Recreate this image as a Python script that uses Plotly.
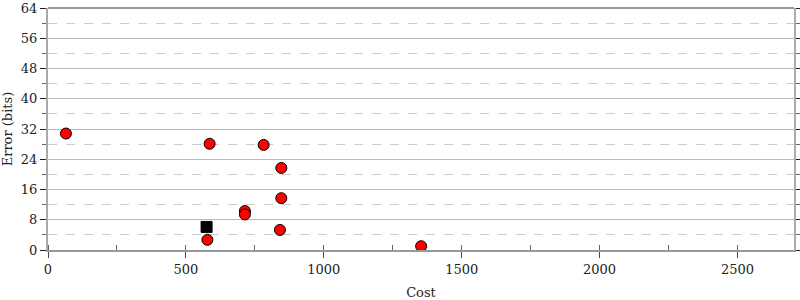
import plotly.graph_objects as go

cost = [65, 586, 782, 846, 846, 714, 714, 841, 578, 1353]
error_bits = [30.8, 28.1, 27.8, 21.7, 13.7, 10.3, 9.4, 5.3, 2.7, 1.0]
best_cost = [575]
best_error = [6.1]

fig = go.Figure()
fig.add_trace(go.Scatter(
    x=cost, y=error_bits, mode="markers",
    marker=dict(symbol="circle", size=11, color="#ff0000",
                line=dict(color="#000000", width=1)),
    showlegend=False, hoverinfo="x+y"))
fig.add_trace(go.Scatter(
    x=best_cost, y=best_error, mode="markers",
    marker=dict(symbol="square", size=11, color="#000000",
                line=dict(color="#000000", width=1)),
    showlegend=False, hoverinfo="x+y"))

font = dict(family="DejaVu Serif", size=13, color="#222222")
fig.update_layout(
    width=800, height=300,
    margin=dict(l=48, r=6, t=8, b=50),
    paper_bgcolor="white", plot_bgcolor="white",
    font=font,
    xaxis=dict(
        range=[0, 2705], dtick=500, tick0=0, automargin=False,
        showgrid=False, zeroline=False,
        showline=True, linecolor="#999999", linewidth=2, mirror=False,
        ticks="outside", ticklen=6, tickcolor="#444444", tickwidth=1,
        minor=dict(dtick=250, ticks="inside", ticklen=5, tickcolor="#666666", showgrid=False),
        title=dict(text="Cost", font=font, standoff=14),
    ),
    yaxis=dict(
        range=[0, 64], dtick=8, tick0=0, automargin=False,
        showgrid=True, gridcolor="#bbbbbb", gridwidth=1,
        zeroline=False,
        showline=True, linecolor="#aaaaaa", linewidth=2, mirror="ticks",
        ticks="outside", ticklen=6, tickcolor="#222222", tickwidth=1,
        minor=dict(dtick=4, ticks="outside", ticklen=4, tickcolor="#666666",
                   showgrid=True, gridcolor="#cccccc", griddash="dash", gridwidth=1),
        title=dict(text="Error (bits)", font=font, standoff=8),
    ),
)
fig.add_shape(type="line", xref="paper", yref="paper", x0=0, x1=1, y0=1, y1=1,
              line=dict(color="#999999", width=2))
fig.write_html("out.html")
